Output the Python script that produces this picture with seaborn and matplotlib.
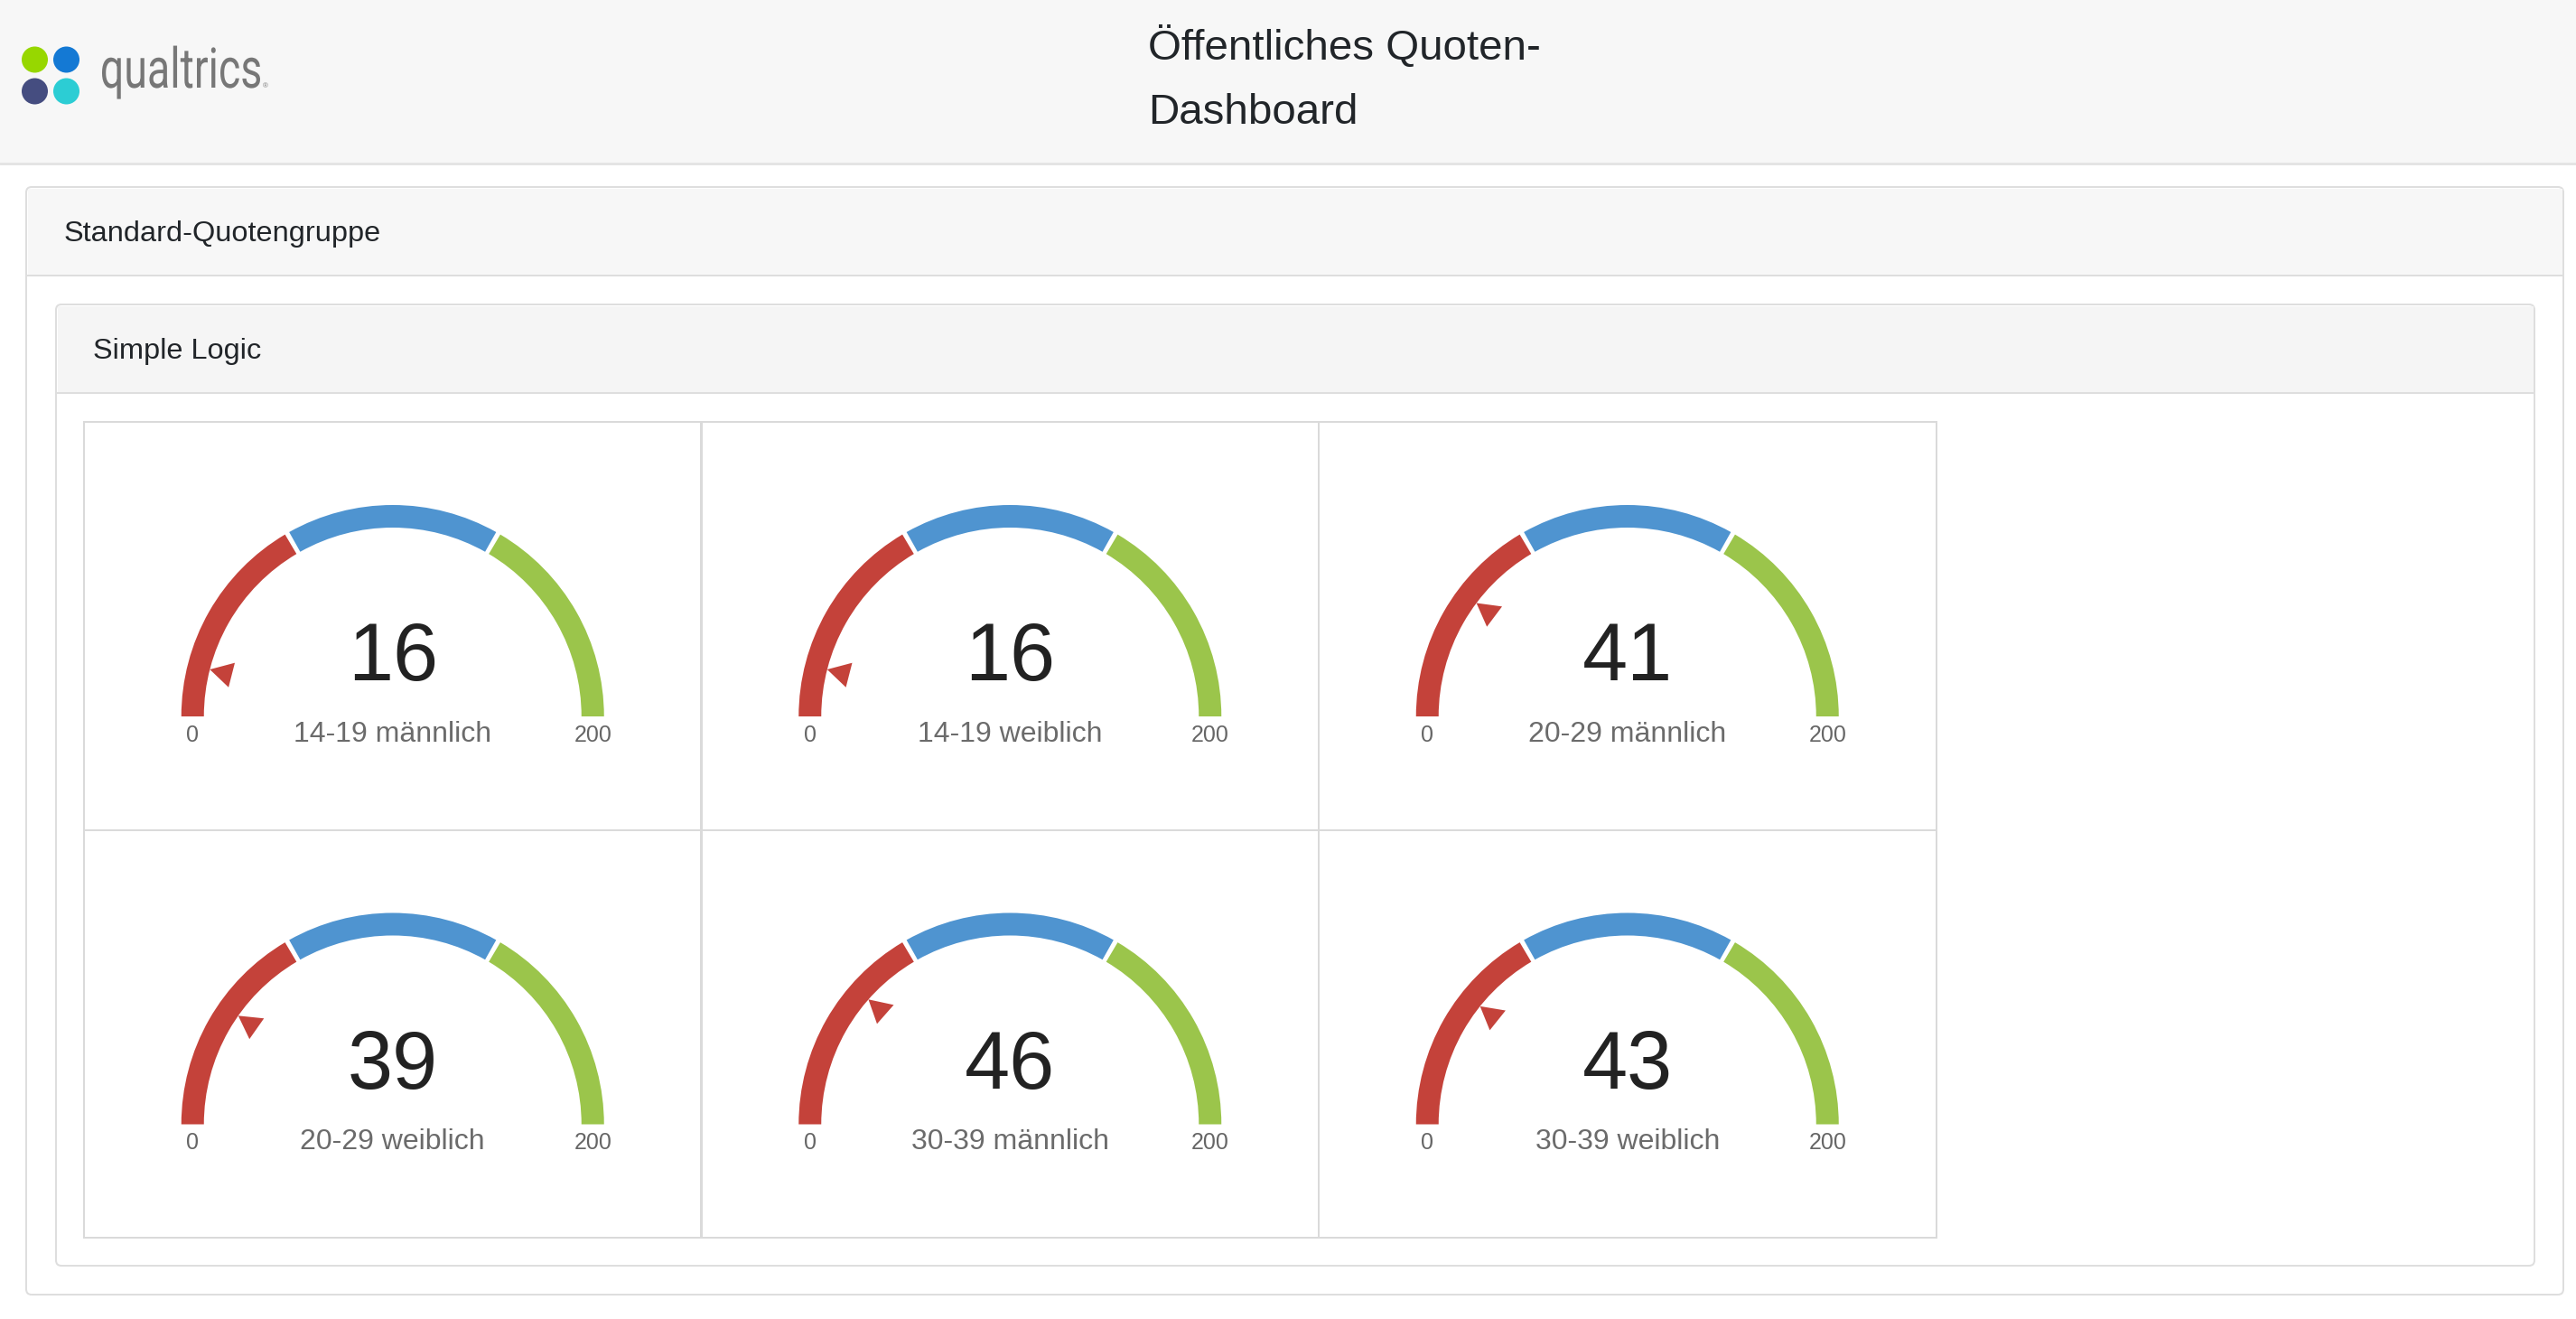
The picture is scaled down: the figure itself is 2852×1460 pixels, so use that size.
import numpy as np
import matplotlib
matplotlib.use("Agg")
import matplotlib.pyplot as plt
from matplotlib.patches import Wedge, Polygon, Rectangle, FancyBboxPatch, Ellipse, PathPatch
from matplotlib.textpath import TextPath
from matplotlib.font_manager import FontProperties
from matplotlib.transforms import Affine2D
import seaborn as sns

labels = ["14-19 männlich", "14-19 weiblich", "20-29 männlich",
          "20-29 weiblich", "30-39 männlich", "30-39 weiblich"]
values = [16, 16, 41, 39, 46, 43]
gauge_min = 0
gauge_max = 200
band_edges = [0, 66.7, 133.3, 200]
band_colors = ["#c4423a", "#4f94d0", "#9bc54b"]

title_lines = ["Öffentliches Quoten-", "Dashboard"]
group_title = "Standard-Quotengruppe"
quota_title = "Simple Logic"
logo_text = "qualtrics"
logo_colors = ["#97d700", "#1479d4", "#454d80", "#2ccdd4"]

# ---- canvas in pixel units ----
W, H = 2852, 1460
DPI = 100
PT = 72 / DPI  # px -> pt

sns.set_theme(style="white")
plt.rcParams["font.family"] = ["Liberation Sans", "DejaVu Sans"]

fig = plt.figure(figsize=(W / DPI, H / DPI), dpi=DPI)
fig.patch.set_facecolor("white")
bg = fig.add_axes([0, 0, 1, 1])
bg.set_xlim(0, W)
bg.set_ylim(H, 0)
bg.axis("off")

# top bar
bg.add_patch(Rectangle((0, 0), W, 180, fc="#f7f7f7", ec="none"))
bg.plot([0, W], [181, 181], color="#e4e4e4", lw=3 * PT)

# logo dots
for (cx, cy), col in zip([(38.5, 66), (73.5, 66), (38.5, 101), (73.5, 101)], logo_colors):
    bg.add_patch(Ellipse((cx, cy), 29, 29, fc=col, ec="none"))

# condensed logo word, squeezed to the width seen in the picture
tp = TextPath((0, 0), logo_text, size=100, prop=FontProperties(family="Roboto", weight="normal"))
ext = tp.get_extents()
sx = 175 / ext.width
sy = 59 / ext.height
tr = Affine2D().translate(-ext.x0, 0).scale(sx, -sy).translate(113, 97)
bg.add_patch(PathPatch(tr.transform_path(tp), fc="#777777", ec="none"))
bg.text(291, 97, "®", fontsize=8 * PT, color="#777777", va="baseline")

# page title
bg.text(1271, 66, title_lines[0], fontsize=47.5 * PT, color="#212529", va="baseline")
bg.text(1271, 137, title_lines[1], fontsize=47.5 * PT, color="#212529", va="baseline")

# outer panel
bg.add_patch(FancyBboxPatch((29, 207), 2809, 1226, boxstyle="round,pad=0,rounding_size=6",
                            fc="white", ec="#dedede", lw=2 * PT))
bg.add_patch(Rectangle((30.5, 208.5), 2806, 96, fc="#f7f7f7", ec="none"))
bg.plot([29, 2838], [305, 305], color="#dedede", lw=2 * PT)
bg.text(71, 267, group_title, fontsize=32.5 * PT, color="#212529", va="baseline")

# inner panel
bg.add_patch(FancyBboxPatch((62, 337), 2744, 1064, boxstyle="round,pad=0,rounding_size=6",
                            fc="white", ec="#dedede", lw=2 * PT))
bg.add_patch(Rectangle((63.5, 338.5), 2741, 96, fc="#f5f5f5", ec="none"))
bg.plot([62, 2806], [435, 435], color="#dedede", lw=2 * PT)
bg.text(103, 397, quota_title, fontsize=32.5 * PT, color="#212529", va="baseline")

# ---- gauges ----
CELL_X0, CELL_Y0 = 93, 467
CELL_W, CELL_H = 683.5, 451.5
CENTER_FROM_TOP = 326
R_OUT, BAND_W = 234, 25
GAP = 1.3  # degrees of white between bands


def val2ang(v):
    return 180.0 - (v - gauge_min) / (gauge_max - gauge_min) * 180.0


for i, (lab, val) in enumerate(zip(labels, values)):
    col, row = i % 3, i // 3
    left = CELL_X0 + col * CELL_W
    top = CELL_Y0 + row * CELL_H
    ax = fig.add_axes([left / W, 1 - (top + CELL_H) / H, CELL_W / W, CELL_H / H])
    ax.set_xlim(-CELL_W / 2, CELL_W / 2)
    ax.set_ylim(-(CELL_H - CENTER_FROM_TOP), CENTER_FROM_TOP)
    ax.set_xticks([])
    ax.set_yticks([])
    ax.set_facecolor("white")
    for sp in ax.spines.values():
        sp.set_visible(True)
        sp.set_color("#dadada")
        sp.set_linewidth(2 * PT)

    for k in range(3):
        a1 = val2ang(band_edges[k + 1])
        a2 = val2ang(band_edges[k])
        if k > 0:
            a2 -= GAP / 2
        if k < 2:
            a1 += GAP / 2
        ax.add_patch(Wedge((0, 0), R_OUT, a1, a2, width=BAND_W, fc=band_colors[k], ec="none"))

    # pointer triangle just inside the arc
    a = np.radians(val2ang(val))
    u = np.array([np.cos(a), np.sin(a)])
    p = np.array([-np.sin(a), np.cos(a)])
    tip = (R_OUT - BAND_W) * u
    base = (R_OUT - BAND_W - 25) * u
    ax.add_patch(Polygon([tip, base + 14 * p, base - 14 * p], closed=True,
                         fc=band_colors[0], ec="none"))

    ax.text(0, 40, str(val), fontsize=90 * PT, color="#222222", ha="center", va="baseline")
    ax.text(0, -28, lab, fontsize=32 * PT, color="#6b6b6b", ha="center", va="baseline")
    ax.text(-(R_OUT - BAND_W / 2), -28, str(gauge_min), fontsize=25 * PT, color="#666666",
            ha="center", va="baseline")
    ax.text(R_OUT - BAND_W / 2, -28, str(gauge_max), fontsize=25 * PT, color="#666666",
            ha="center", va="baseline")

fig.savefig("out.png", dpi=DPI)
